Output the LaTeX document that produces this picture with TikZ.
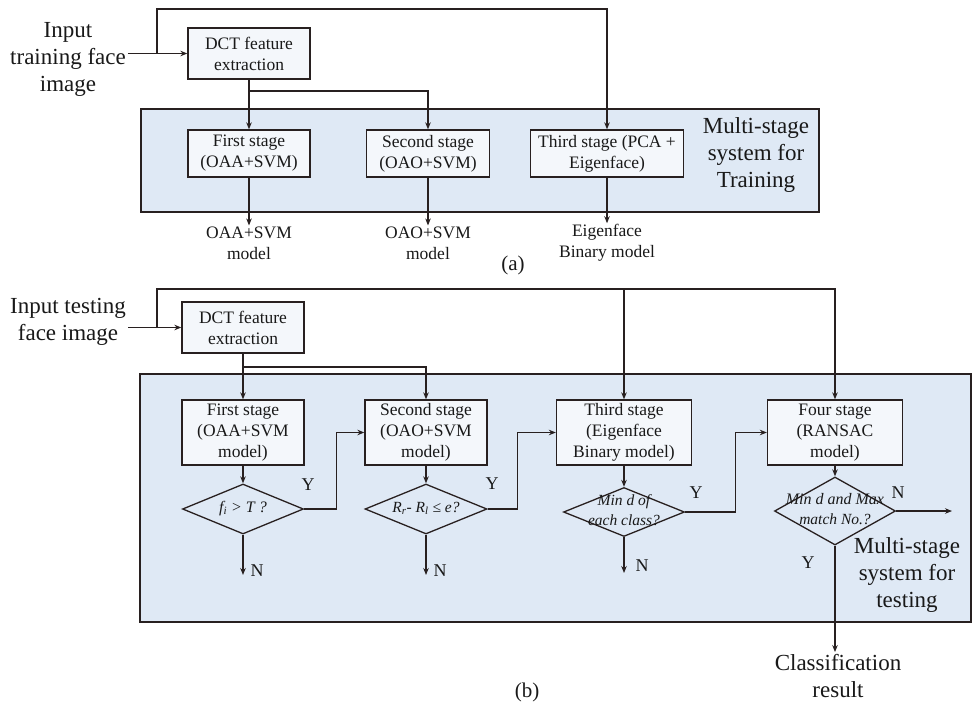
\documentclass[tikz,border=0pt]{standalone}
\usepackage{fontspec}
\setmainfont{Liberation Serif}
\usetikzlibrary{shapes.geometric,arrows.meta}
\definecolor{ln}{RGB}{40,32,32}
\definecolor{txt}{RGB}{25,25,25}
\definecolor{bluefill}{RGB}{223,233,245}
\definecolor{boxfill}{RGB}{244,247,251}
\newcommand{\zt}[1]{\smash{\makebox[0pt]{\raisebox{-3pt}{\begin{tabular}{@{}c@{}}#1\end{tabular}}}}}
\begin{document}
\begin{tikzpicture}[x=1pt,y=-1pt,
  line/.style={draw=ln, line width=1.2pt},
  arr/.style={line, -{Stealth[length=7pt,width=5.5pt]}},
  panel/.style={draw=ln, fill=bluefill, line width=1.3pt, inner sep=0pt},
  box/.style={draw=ln, fill=boxfill, line width=1.3pt, inner sep=0pt, align=center, text=txt, font={\fontsize{17.5}{21}\selectfont}},
  dia/.style={diamond, draw=ln, fill=bluefill, line width=1.3pt, inner sep=0pt, text=txt, font={\fontsize{15.5}{19.5}\selectfont\itshape}},
  big/.style={align=center, text=txt, inner sep=2pt, font={\fontsize{23}{27}\selectfont}},
  mid/.style={align=center, text=txt, inner sep=1pt, font={\fontsize{17.5}{21}\selectfont}},
  yn/.style={text=txt, inner sep=0pt, font={\fontsize{18}{20}\selectfont}},
  captxt/.style={text=txt, inner sep=0pt, font={\fontsize{21}{24}\selectfont}}]
\useasboundingbox (0,0) rectangle (974,705);
\fill[white] (0,0) rectangle (974,705);

% ---------------- panel (a) ----------------
\node[panel, minimum width=678pt, minimum height=103pt] (pa) at (480,160.5) {};
\node[big] (tin) at (68,59) {Input\\training face\\image};
\node[box, minimum width=122pt, minimum height=51pt] (dcta) at (249,53.5) {DCT feature\\extraction};
\node[box, minimum width=122pt, minimum height=47pt] (s1a) at (249,153.5) {First stage\\(OAA+SVM)};
\node[box, minimum width=123pt, minimum height=47pt] (s2a) at (428,153.5) {Second stage\\(OAO+SVM)};
\node[box, minimum width=153pt, minimum height=47pt] (s3a) at (607,153.5) {Third stage (PCA +\\Eigenface)};
\node[big] (msa) at (756,155) {Multi-stage\\system for\\Training};
\node[mid] (o1) at (249,243) {OAA+SVM\\model};
\node[mid] (o2) at (428,243) {OAO+SVM\\model};
\node[mid] (o3) at (607,243) {Eigenface\\Binary model};
\node[captxt] (capa) at (513,265) {(a)};

\coordinate (fa) at (157,53.5);
\coordinate (ta) at (157,9);
\coordinate (ja) at (249,91);
\draw[arr] (tin.east |- dcta.west) -- (dcta.west);
\draw[arr] (fa) -- (ta) -| (s3a.north);
\draw[arr] (dcta.south) -- (s1a.north);
\draw[arr] (ja) -| (s2a.north);
\draw[arr] (s1a.south) -- (o1.north);
\draw[arr] (s2a.south) -- (o2.north);
\draw[arr] (s3a.south) -- (o3.north);

% ---------------- panel (b) ----------------
\node[panel, minimum width=831pt, minimum height=248pt] (pb) at (555.5,498) {};
\node[big] (tinb) at (68,322) {Input testing\\face image};
\node[box, minimum width=122pt, minimum height=51pt] (dctb) at (243,327.5) {DCT feature\\extraction};
\node[box, minimum width=122pt, minimum height=65pt] (s1b) at (243,432.5) {First stage\\(OAA+SVM\\model)};
\node[box, minimum width=122pt, minimum height=65pt] (s2b) at (426,432.5) {Second stage\\(OAO+SVM\\model)};
\node[box, minimum width=135pt, minimum height=65pt] (s3b) at (624,432.5) {Third stage\\(Eigenface\\Binary model)};
\node[box, minimum width=135pt, minimum height=65pt] (s4b) at (835,432.5) {Four stage\\(RANSAC\\model)};

\node[dia, minimum width=121pt, minimum height=50pt] (d1) at (243,509) {\zt{\fontsize{16}{19}\selectfont f\textsubscript{i} > T ?}};
\node[dia, minimum width=122pt, minimum height=50pt] (d2) at (426,509) {\zt{R\textsubscript{r}- R\textsubscript{l} ≤ e?}};
\node[dia, minimum width=121pt, minimum height=49pt] (d3) at (624,512) {\zt{Min d of\\each class?}};
\node[dia, minimum width=121pt, minimum height=68pt] (d4) at (835,511) {\zt{\fontsize{16}{20}\selectfont Min d and Max\\match No.?}};

\node[big] (msb) at (907,575) {Multi-stage\\system for\\testing};
\node[big] (res) at (838,676) {Classification\\result};
\node[captxt] (capb) at (527,692) {(b)};

\node[yn] (y1) at (308,485) {Y};
\node[yn] (y2) at (492,484) {Y};
\node[yn] (y3) at (696,493) {Y};
\node[yn] (y4) at (808,563) {Y};
\node[yn] (nn1) at (257,571) {N};
\node[yn] (nn2) at (440,571) {N};
\node[yn] (nn3) at (642,566) {N};
\node[yn] (nn4) at (898,493) {N};

\coordinate (fb) at (157,328);
\coordinate (tb) at (157,289);
\coordinate (jb) at (243,367);
\coordinate (n1) at (243,575);
\coordinate (n2) at (426,575);
\coordinate (n3) at (624,573);
\coordinate (n4) at (952,511);
\draw[arr] (tinb.east |- dctb.west) -- (dctb.west);
\draw[arr] (fb) -- (tb) -| (s4b.north);
\draw[arr] (s3b.north |- tb) -- (s3b.north);
\draw[arr] (dctb.south) -- (s1b.north);
\draw[arr] (jb) -| (s2b.north);
\draw[arr] (s1b.south) -- (d1.north);
\draw[arr] (s2b.south) -- (d2.north);
\draw[arr] (s3b.south) -- (d3.north);
\draw[arr] (s4b.south) -- (d4.north);
\draw[arr] (d1.east) -- ++(32,0) |- (s2b.west);
\draw[arr] (d2.east) -- ++(30,0) |- (s3b.west);
\draw[arr] (d3.east) -- ++(50,0) |- (s4b.west);
\draw[arr] (d1.south) -- (n1);
\draw[arr] (d2.south) -- (n2);
\draw[arr] (d3.south) -- (n3);
\draw[arr] (d4.east) -- (n4);
\draw[arr] (d4.south) -- (d4.south |- res.north);
\end{tikzpicture}
\end{document}
